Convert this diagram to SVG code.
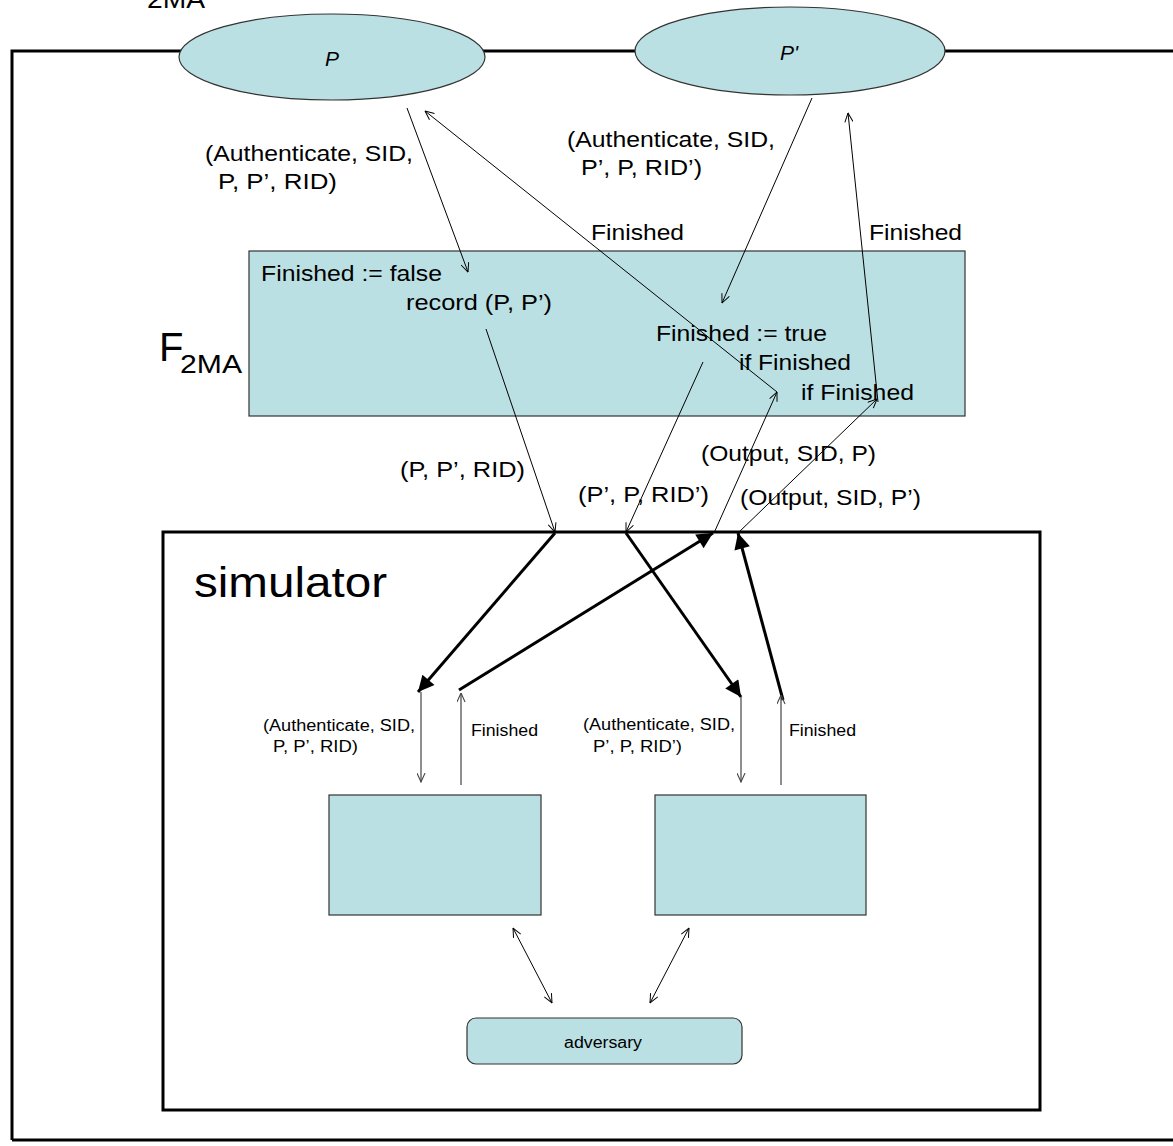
<svg xmlns="http://www.w3.org/2000/svg" width="1173" height="1146" viewBox="0 0 1173 1146">
  <defs>
    <style>
      text { font-family: "Liberation Sans", Arial, sans-serif; fill: #000; }
      .big { font-size: 22px; }
      .small { font-size: 16px; }
      .shape { fill: #bbe0e3; stroke: #333; stroke-width: 1.2; }
      .frame { fill: none; stroke: #000; stroke-width: 3; }
      .thin { fill: none; stroke: #000; stroke-width: 1; }
      .grey { fill: none; stroke: #444; stroke-width: 1.2; }
      .thick { fill: none; stroke: #000; stroke-width: 3; }
    </style>
    <marker id="open" viewBox="0 0 10 10" refX="10" refY="5" markerWidth="10" markerHeight="9" orient="auto-start-reverse" markerUnits="userSpaceOnUse">
      <path d="M0,0.5 L10,5 L0,9.5" fill="none" stroke="#000" stroke-width="1.1"/>
    </marker>
    <marker id="openGrey" viewBox="0 0 10 10" refX="10" refY="5" markerWidth="10" markerHeight="9" orient="auto-start-reverse" markerUnits="userSpaceOnUse">
      <path d="M0,0.5 L10,5 L0,9.5" fill="none" stroke="#444" stroke-width="1.2"/>
    </marker>
    <marker id="solid" viewBox="0 0 10 10" refX="10" refY="5" markerWidth="18" markerHeight="16" orient="auto" markerUnits="userSpaceOnUse">
      <path d="M0,0 L10,5 L0,10 Z" fill="#000"/>
    </marker>
  </defs>

  <!-- outer frame of the ideal world -->
  <g id="frame">
    <path class="frame" d="M12,1140 V51 H1173"/>
    <path class="frame" d="M12,1140 H1173"/>
    <text x="147" y="8" font-size="25" textLength="58" lengthAdjust="spacingAndGlyphs">2MA</text>
  </g>

  <!-- parties -->
  <g id="party-P">
    <ellipse class="shape" cx="332" cy="57" rx="153" ry="43"/>
    <text x="325" y="66" font-size="21" font-style="italic">P</text>
  </g>
  <g id="party-P2">
    <ellipse class="shape" cx="790" cy="51" rx="155" ry="44"/>
    <text x="780" y="60" font-size="21" font-style="italic">P'</text>
  </g>

  <!-- ideal functionality -->
  <g id="functionality">
    <rect class="shape" x="249" y="251" width="716" height="165" stroke-width="1.5"/>
    <text class="big" x="261" y="281" textLength="181" lengthAdjust="spacingAndGlyphs">Finished := false</text>
    <text class="big" x="406" y="310" textLength="146" lengthAdjust="spacingAndGlyphs">record (P, P’)</text>
    <text class="big" x="656" y="341" textLength="171" lengthAdjust="spacingAndGlyphs">Finished := true</text>
    <text class="big" x="739" y="370" textLength="112" lengthAdjust="spacingAndGlyphs">if Finished</text>
    <text class="big" x="801" y="400" textLength="113" lengthAdjust="spacingAndGlyphs">if Finished</text>
  </g>
  <g id="functionality-label">
    <text x="159" y="361" font-size="40">F</text>
    <text x="180" y="373" font-size="25" textLength="62" lengthAdjust="spacingAndGlyphs">2MA</text>
  </g>

  <!-- simulator -->
  <g id="simulator">
    <rect x="163" y="532" width="877" height="578" fill="none" stroke="#000" stroke-width="3"/>
    <text x="194" y="597" font-size="42" textLength="193" lengthAdjust="spacingAndGlyphs">simulator</text>
  </g>
  <g id="sim-party-P">
    <rect class="shape" x="329" y="795" width="212" height="120"/>
  </g>
  <g id="sim-party-P2">
    <rect class="shape" x="655" y="795" width="211" height="120"/>
  </g>
  <g id="adversary">
    <rect class="shape" x="467" y="1018" width="275" height="46" rx="9" ry="9"/>
    <text class="small" x="564" y="1048" textLength="78" lengthAdjust="spacingAndGlyphs">adversary</text>
  </g>

  <!-- messages and arrows -->
  <g id="connectors">
    <line class="thin" x1="407" y1="108" x2="468" y2="272" marker-end="url(#open)"/>
    <line class="thin" x1="777" y1="392" x2="425" y2="111" marker-end="url(#open)"/>
    <line class="thin" x1="812" y1="98" x2="722" y2="303" marker-end="url(#open)"/>
    <line class="thin" x1="878" y1="402" x2="848" y2="113" marker-end="url(#open)"/>
    <line class="thin" x1="486" y1="329" x2="555" y2="532" marker-end="url(#open)"/>
    <line class="thin" x1="703" y1="362" x2="626" y2="532" marker-end="url(#open)"/>
    <line class="thin" x1="714" y1="533" x2="777" y2="392" marker-end="url(#open)"/>
    <line class="thin" x1="738" y1="533" x2="877" y2="399" marker-end="url(#open)"/>

    <line class="thick" x1="555" y1="533" x2="418" y2="692" marker-end="url(#solid)"/>
    <line class="thick" x1="459" y1="690" x2="713" y2="533" marker-end="url(#solid)"/>
    <line class="thick" x1="626" y1="533" x2="741" y2="697" marker-end="url(#solid)"/>
    <line class="thick" x1="783" y1="700" x2="738" y2="533" marker-end="url(#solid)"/>

    <line class="grey" x1="421" y1="692" x2="421" y2="782" marker-end="url(#openGrey)"/>
    <line class="grey" x1="461" y1="785" x2="461" y2="693" marker-end="url(#openGrey)"/>
    <line class="grey" x1="741" y1="697" x2="741" y2="782" marker-end="url(#openGrey)"/>
    <line class="grey" x1="781" y1="785" x2="781" y2="695" marker-end="url(#openGrey)"/>

    <line class="thin" x1="513" y1="928" x2="552" y2="1003" marker-start="url(#open)" marker-end="url(#open)"/>
    <line class="thin" x1="689" y1="928" x2="650" y2="1003" marker-start="url(#open)" marker-end="url(#open)"/>
  </g>

  <!-- message labels -->
  <g id="labels">
    <text class="big" x="205" y="161" textLength="208" lengthAdjust="spacingAndGlyphs">(Authenticate, SID,</text>
    <text class="big" x="218" y="189" textLength="119" lengthAdjust="spacingAndGlyphs">P, P’, RID)</text>
    <text class="big" x="567" y="147" textLength="208" lengthAdjust="spacingAndGlyphs">(Authenticate, SID,</text>
    <text class="big" x="581" y="175" textLength="121" lengthAdjust="spacingAndGlyphs">P’, P, RID’)</text>
    <text class="big" x="591" y="240" textLength="93" lengthAdjust="spacingAndGlyphs">Finished</text>
    <text class="big" x="869" y="240" textLength="93" lengthAdjust="spacingAndGlyphs">Finished</text>
    <text class="big" x="400" y="477" textLength="125" lengthAdjust="spacingAndGlyphs">(P, P’, RID)</text>
    <text class="big" x="578" y="502" textLength="131" lengthAdjust="spacingAndGlyphs">(P’, P, RID’)</text>
    <text class="big" x="701" y="461" textLength="175" lengthAdjust="spacingAndGlyphs">(Output, SID, P)</text>
    <text class="big" x="740" y="505" textLength="181" lengthAdjust="spacingAndGlyphs">(Output, SID, P’)</text>

    <text class="small" x="263" y="731" textLength="152" lengthAdjust="spacingAndGlyphs">(Authenticate, SID,</text>
    <text class="small" x="273" y="752" textLength="85" lengthAdjust="spacingAndGlyphs">P, P’, RID)</text>
    <text class="small" x="471" y="736" textLength="67" lengthAdjust="spacingAndGlyphs">Finished</text>
    <text class="small" x="583" y="730" textLength="152" lengthAdjust="spacingAndGlyphs">(Authenticate, SID,</text>
    <text class="small" x="593" y="752" textLength="89" lengthAdjust="spacingAndGlyphs">P’, P, RID’)</text>
    <text class="small" x="789" y="736" textLength="67" lengthAdjust="spacingAndGlyphs">Finished</text>
  </g>
</svg>
